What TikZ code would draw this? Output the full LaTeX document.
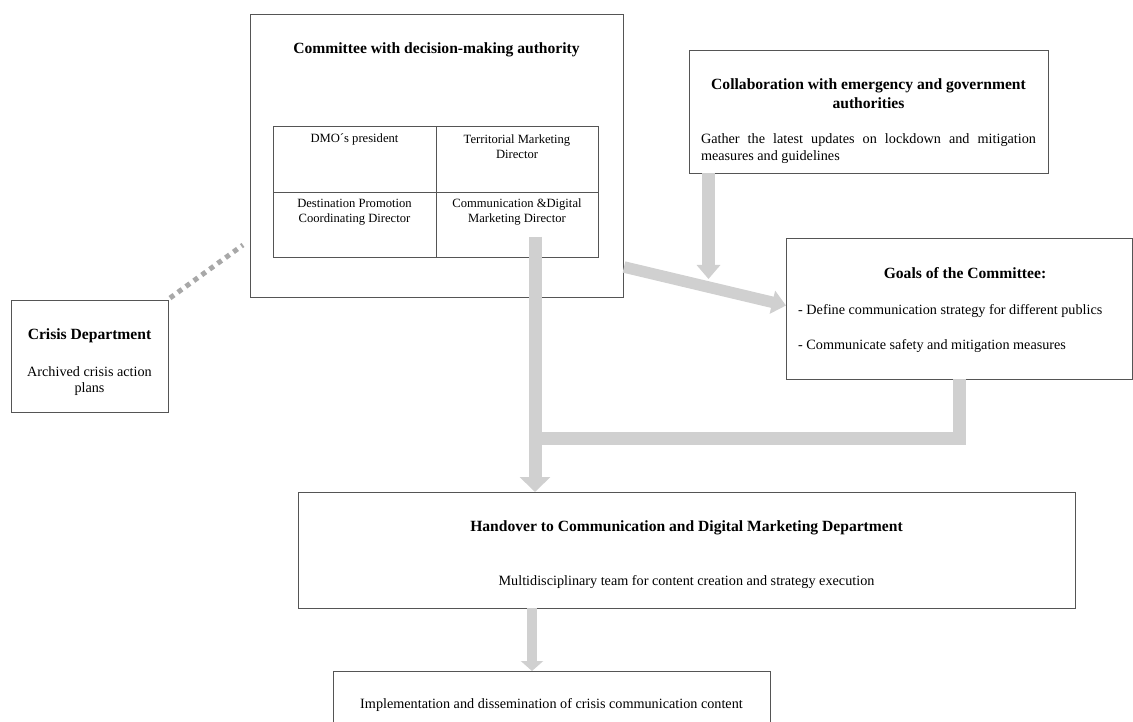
\documentclass[tikz,border=0pt]{standalone}
\usepackage{fontspec}
\setmainfont{Liberation Serif}
\usetikzlibrary{arrows.meta,calc}
\definecolor{bargrey}{RGB}{208,208,208}
\definecolor{dotgrey}{RGB}{168,168,168}
\definecolor{edgegrey}{RGB}{85,85,85}
\newcommand\headfont{\fontsize{15.6}{19}\selectfont\bfseries}
\newcommand\bodyfont{\fontsize{14.2}{15.5}\selectfont}
\newcommand\cellfont{\fontsize{12.6}{15}\selectfont}

\begin{document}
\begin{tikzpicture}[x=1pt,y=-1pt,
  frame/.style={draw=edgegrey, line width=0.9pt, inner sep=0pt, outer sep=0pt, anchor=north west},
  head/.style={font=\headfont, align=center, inner sep=0pt},
  body/.style={font=\bodyfont, align=center, inner sep=0pt},
  cell/.style={font=\cellfont, align=center, inner sep=0pt},
  bar/.style={draw=bargrey, line width=13pt},
  bigarrow/.style={bar, -{Triangle[width=30pt,length=15pt]}},
  midarrow/.style={bar, -{Triangle[width=23pt,length=14pt]}},
  smallarrow/.style={bar, line width=10.5pt, -{Triangle[width=22pt,length=10pt]}},
  dotline/.style={draw=dotgrey, line width=5pt, dash pattern=on 5pt off 4.8pt}
]
\useasboundingbox (0,0) rectangle (1133,722);
\clip (0,0) rectangle (1133,722);

% committee with its table of members
\node[frame, minimum width=373pt, minimum height=283pt] (committee) at (250,14) {};
\node[head] (committeetitle) at (436.5,50) {Committee with decision-making authority};
\node[frame, minimum width=163pt, minimum height=66pt] (c11) at (273,126) {};
\node[frame, minimum width=162pt, minimum height=66pt] (c12) at (436,126) {};
\node[frame, minimum width=163pt, minimum height=65pt] (c21) at (273,192) {};
\node[frame, minimum width=162pt, minimum height=65pt] (c22) at (436,192) {};
\node[cell] (t11) at (354.5,139.5) {DMO´s president};
\node[cell] (t12) at (517,147) {Territorial Marketing\\Director};
\node[cell] (t21) at (354.5,212) {Destination Promotion\\Coordinating Director};
\node[cell] (t22) at (517,212) {Communication \&Digital\\Marketing Director};

% collaboration with authorities
\node[frame, minimum width=359pt, minimum height=123pt] (collab) at (689,50) {};
\node[head] (collabtitle) at (868.5,93.5) {Collaboration with emergency and government\\authorities};
\node[body, text width=335pt, align=justify, font=\fontsize{14.2}{17}\selectfont] (collabtext) at (868.5,149)
  {Gather the latest updates on lockdown and mitigation\linebreak measures and guidelines};

% goals of the committee
\node[frame, minimum width=346pt, minimum height=141pt] (goals) at (786,238) {};
\node[head] (goalstitle) at (965,273) {Goals of the Committee:};
\node[body, anchor=west] (goal1) at (798,311) {- Define communication strategy for different publics};
\node[body, anchor=west] (goal2) at (798,346) {- Communicate safety and mitigation measures};

% crisis department
\node[frame, minimum width=157pt, minimum height=112pt] (crisis) at (11,300) {};
\node[head] (crisistitle) at (89.5,336) {Crisis Department};
\node[body] (crisistext) at (89.5,381) {Archived crisis action\\plans};

% handover and implementation
\node[frame, minimum width=777pt, minimum height=116pt] (handover) at (298,492) {};
\node[head] (handovertitle) at (686.5,528) {Handover to Communication and Digital Marketing Department};
\node[body] (handovertext) at (686.5,582) {Multidisciplinary team for content creation and strategy execution};
\node[frame, minimum width=437pt, minimum height=80pt] (impl) at (333,671) {};
\node[body] (impltext) at (551.5,705) {Implementation and dissemination of crisis communication content};

% connectors
\coordinate (start) at ($(c22.south west)+(99,-20)$);
\coordinate (join) at (535,438.5);
\coordinate (meet) at (708.5,279);
\coordinate (dotend) at (243,245);

\draw[dotline] ($(crisis.north east)+(2,-2)$) -- (dotend);
\draw[midarrow] ($(collab.south west)+(19.5,0)$) -- (meet);
\draw[midarrow, line width=11.5pt] ($(committee.south east)+(1,-30)$) -- ($(goals.west)+(0,-3)$);
\draw[bar] (goals.south) |- (join);
\draw[bigarrow] (start) -- (start |- handover.north);
\draw[smallarrow] (handover.south -| 532,0) -- (impl.north -| 532,0);
\end{tikzpicture}
\end{document}
